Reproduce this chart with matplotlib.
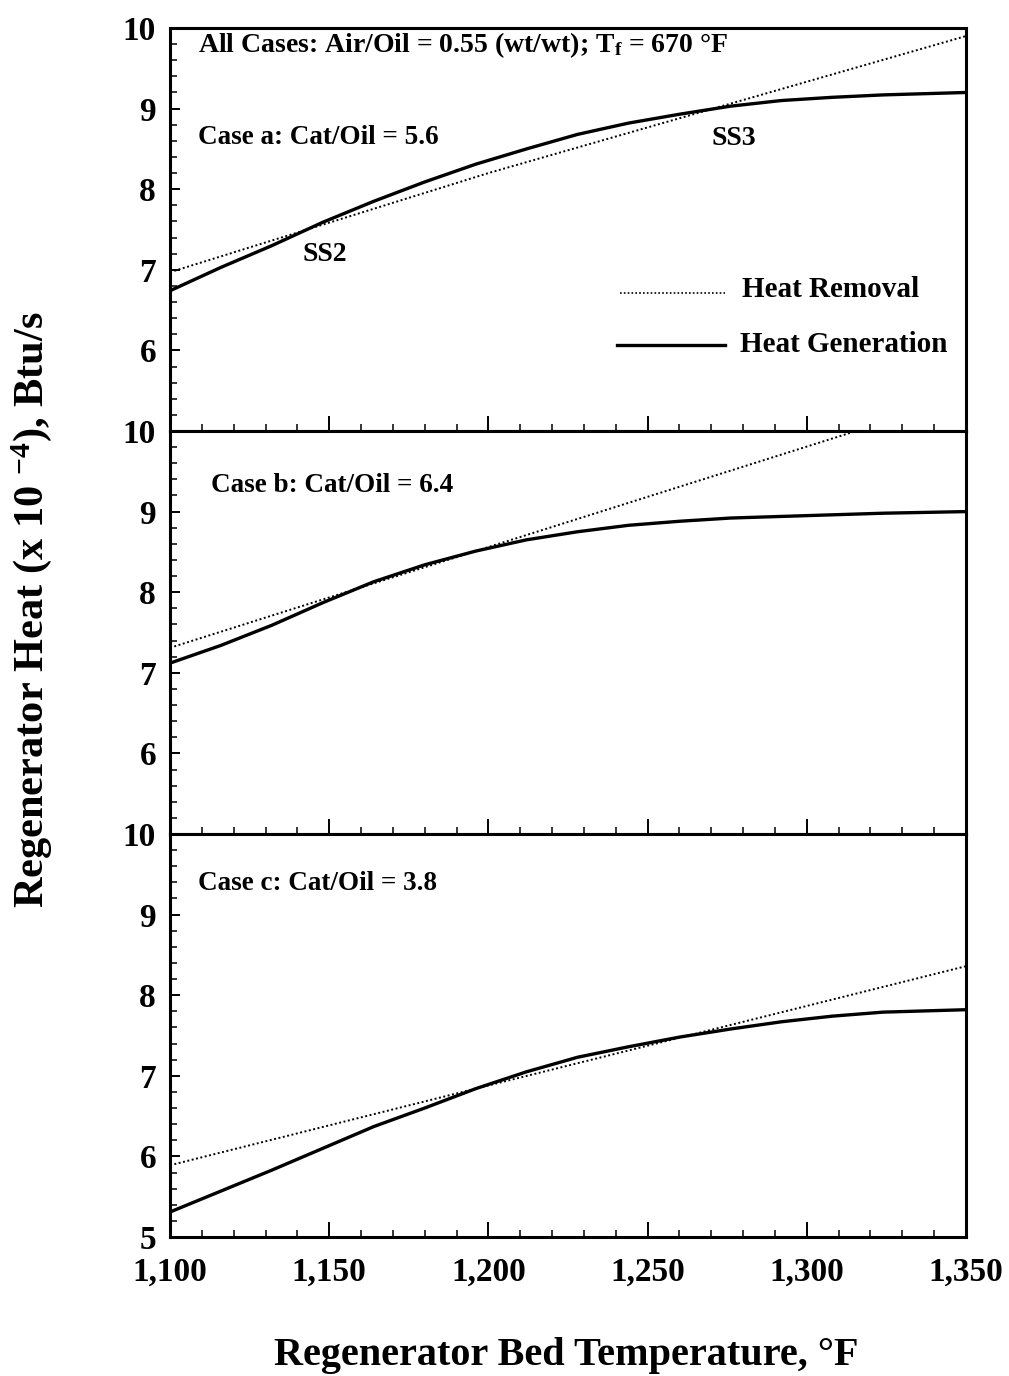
import matplotlib
matplotlib.use("Agg")
import matplotlib.pyplot as plt
from matplotlib.ticker import MultipleLocator, FixedLocator, FuncFormatter

plt.rcParams['font.family'] = ['Liberation Serif', 'DejaVu Serif']
plt.rcParams['font.weight'] = 'bold'
plt.rcParams['mathtext.fontset'] = 'custom'
plt.rcParams['mathtext.rm'] = 'Liberation Serif:bold'
plt.rcParams['mathtext.it'] = 'Liberation Serif:bold'
plt.rcParams['mathtext.bf'] = 'Liberation Serif:bold'

# ---- data ----
temp_gen = [1100, 1116, 1132, 1148, 1164, 1180, 1196, 1212, 1228, 1244,
            1260, 1276, 1292, 1308, 1324, 1350]
gen_a = [6.74, 7.03, 7.30, 7.59, 7.85, 8.09, 8.31, 8.50, 8.68, 8.82,
         8.93, 9.03, 9.10, 9.14, 9.17, 9.20]
gen_b = [7.12, 7.34, 7.59, 7.87, 8.13, 8.34, 8.51, 8.65, 8.75, 8.83,
         8.88, 8.92, 8.94, 8.96, 8.98, 9.00]
gen_c = [5.31, 5.57, 5.83, 6.10, 6.37, 6.60, 6.84, 7.05, 7.23, 7.36,
         7.48, 7.58, 7.67, 7.74, 7.79, 7.82]

temp_rem = [1100, 1200, 1350]
rem_a = [6.97, 8.20, 9.90]
rem_b = [7.31, 8.56, 10.43]
rem_c = [5.89, 6.88, 8.36]

case_labels = ["Case a: Cat/Oil = 5.6", "Case b: Cat/Oil = 6.4", "Case c: Cat/Oil = 3.8"]
x_ticks = [1100, 1150, 1200, 1250, 1300, 1350]
legend_labels = ["Heat Removal", "Heat Generation"]

W, H = 1009, 1376
fig = plt.figure(figsize=(W / 100, H / 100), dpi=100)
left, right = 170 / W, 966 / W
top, bottom = 1 - 28 / H, 1 - 1237 / H
ph = (top - bottom) / 3
axes = [fig.add_axes([left, top - (i + 1) * ph, right - left, ph]) for i in range(3)]

gens = [gen_a, gen_b, gen_c]
rems = [rem_a, rem_b, rem_c]
case_pos = [(0.035, 0.728), (0.052, 0.866), (0.035, 0.876)]
for i, ax in enumerate(axes):
    ax.plot(temp_rem, rems[i], color='black', lw=1.4, ls=(0, (1, 1.3)))
    ax.plot(temp_gen, gens[i], color='black', lw=2.4, solid_capstyle='butt')
    ax.set_xlim(1100, 1350)
    ax.set_ylim(5, 10)
    for s in ax.spines.values():
        s.set_linewidth(2.2)
    ax.xaxis.set_major_locator(FixedLocator(x_ticks))
    ax.xaxis.set_minor_locator(MultipleLocator(10))
    if i < 2:
        ax.yaxis.set_major_locator(FixedLocator([6, 7, 8, 9, 10]))
    else:
        ax.yaxis.set_major_locator(FixedLocator([5, 6, 7, 8, 9, 10]))
    ax.yaxis.set_minor_locator(MultipleLocator(0.2))
    ax.tick_params(axis='x', which='major', direction='in', length=11, width=1.4,
                   top=False, labelsize=24, pad=14)
    ax.tick_params(axis='x', which='minor', direction='in', length=5, width=1.1, top=False)
    ax.tick_params(axis='y', which='major', direction='in', length=7, width=1.4,
                   right=False, labelsize=24, pad=10)
    ax.tick_params(axis='y', which='minor', direction='in', length=5, width=1.1, right=False)
    ax.yaxis.set_major_formatter(FuncFormatter(lambda v, p: f"{v:.0f}"))
    ax.xaxis.set_major_formatter(FuncFormatter(lambda v, p: f"{v:,.0f}"))
    if i < 2:
        ax.tick_params(axis='x', labelbottom=False)
    ax.text(case_pos[i][0], case_pos[i][1], case_labels[i], transform=ax.transAxes,
            fontsize=19.5, fontweight='bold', va='center', ha='left')

ax1 = axes[0]
ax1.text(0.035, 0.958, r"All Cases: Air/Oil = 0.55 (wt/wt); T$_{f}$ = 670 °F",
         transform=ax1.transAxes, fontsize=20, fontweight='bold', va='center', ha='left')
ax1.text(1141.5, 7.19, "SS2", fontsize=20, fontweight='bold', va='center', ha='left')
ax1.text(1270, 8.63, "SS3", fontsize=20, fontweight='bold', va='center', ha='left')

# legend (manual, as in reference)
ax1.plot([1241.3, 1274.3], [6.71, 6.71], color='black', lw=1.2, ls=(0, (1, 1.3)))
ax1.plot([1240.3, 1274.3], [6.07, 6.07], color='black', lw=2.4)
ax1.text(1279.6, 6.76, legend_labels[0], fontsize=21, fontweight='bold', va='center', ha='left')
ax1.text(1279.0, 6.07, legend_labels[1], fontsize=21, fontweight='bold', va='center', ha='left')

fig.text(32 / W, 1 - 610 / H, r"Regenerator Heat (x 10 $^{-4}$), Btu/s", rotation=90,
         fontsize=30.5, fontweight='bold', va='center', ha='center')
fig.text(566 / W, 1 - 1356 / H, "Regenerator Bed Temperature, °F",
         fontsize=29, fontweight='bold', va='center', ha='center')

fig.savefig("out.png", dpi=100)
